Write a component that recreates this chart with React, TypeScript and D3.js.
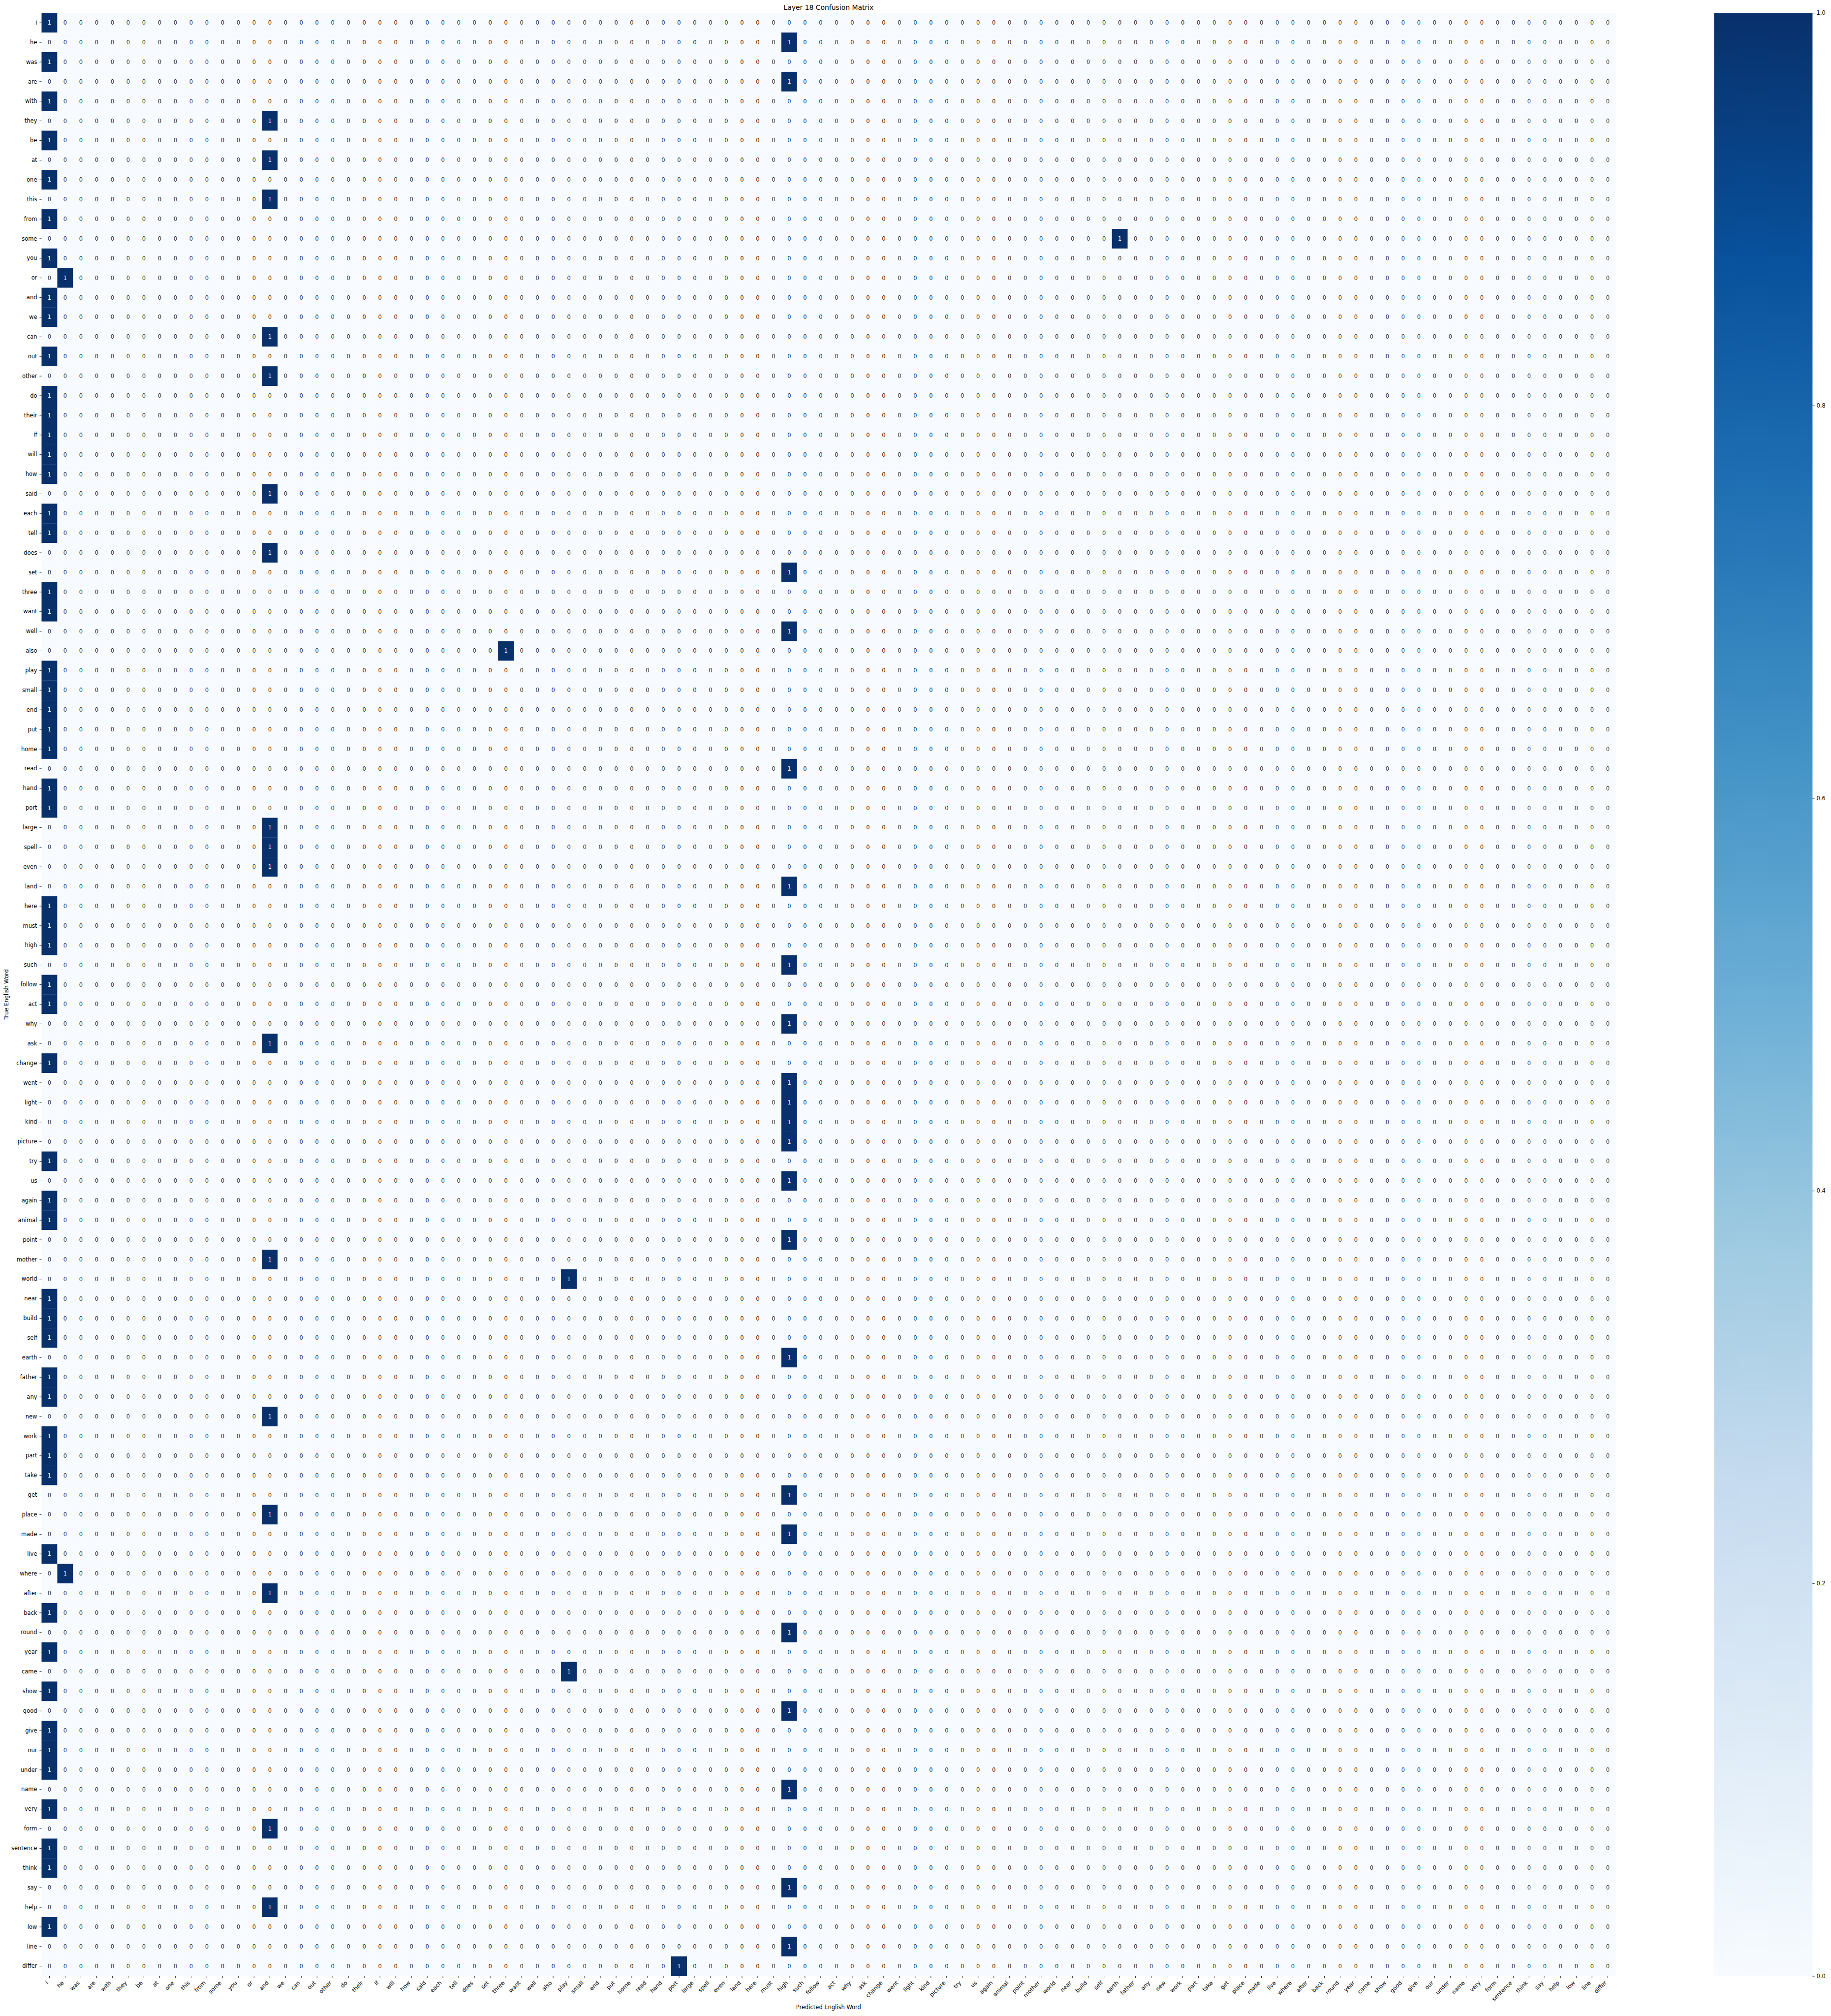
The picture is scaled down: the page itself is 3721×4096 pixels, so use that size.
import React, { useRef, useEffect } from 'react';
import * as d3 from 'd3';

// words shown on both axes (true rows / predicted columns)
const words = [
  'i', 'he', 'was', 'are', 'with', 'they', 'be', 'at', 'one', 'this',
  'from', 'some', 'you', 'or', 'and', 'we', 'can', 'out', 'other', 'do',
  'their', 'if', 'will', 'how', 'said', 'each', 'tell', 'does', 'set', 'three',
  'want', 'well', 'also', 'play', 'small', 'end', 'put', 'home', 'read', 'hand',
  'port', 'large', 'spell', 'even', 'land', 'here', 'must', 'high', 'such', 'follow',
  'act', 'why', 'ask', 'change', 'went', 'light', 'kind', 'picture', 'try', 'us',
  'again', 'animal', 'point', 'mother', 'world', 'near', 'build', 'self', 'earth', 'father',
  'any', 'new', 'work', 'part', 'take', 'get', 'place', 'made', 'live', 'where',
  'after', 'back', 'round', 'year', 'came', 'show', 'good', 'give', 'our', 'under',
  'name', 'very', 'form', 'sentence', 'think', 'say', 'help', 'low', 'line', 'differ',
];

// predicted word for each true word (the single 1 in every row)
const predicted = [
  'i', 'high', 'i', 'high', 'i', 'and', 'i', 'and', 'i', 'and',
  'i', 'earth', 'i', 'he', 'i', 'i', 'and', 'i', 'and', 'i',
  'i', 'i', 'i', 'i', 'and', 'i', 'i', 'and', 'high', 'i',
  'i', 'high', 'three', 'i', 'i', 'i', 'i', 'i', 'high', 'i',
  'i', 'and', 'and', 'and', 'high', 'i', 'i', 'i', 'high', 'i',
  'i', 'high', 'and', 'i', 'high', 'high', 'high', 'high', 'i', 'high',
  'i', 'i', 'high', 'and', 'play', 'i', 'i', 'i', 'high', 'i',
  'i', 'and', 'i', 'i', 'i', 'high', 'and', 'high', 'i', 'he',
  'and', 'i', 'high', 'i', 'play', 'i', 'high', 'i', 'i', 'i',
  'high', 'i', 'and', 'i', 'i', 'high', 'and', 'i', 'high', 'port',
];

const colorbarTicks = [0, 0.2, 0.4, 0.6, 0.8, 1.0];

const title = 'Layer 18 Confusion Matrix';
const xTitle = 'Predicted English Word';
const yTitle = 'True English Word';

const BLUES = ['#f7fbff', '#deebf7', '#c6dbef', '#9ecae1', '#6baed6', '#4292c6', '#2171b5', '#08519c', '#08306b'];

const App = () => {
  const svgRef = useRef<SVGSVGElement>(null);

  useEffect(() => {
    const svg = d3.select(svgRef.current);
    svg.selectAll('*').remove();

    // layout in reference pixels; the viewBox shrinks it to 0.82
    const plot = { left: 103, right: 4004, top: 32, bottom: 4896 };
    const cbar = { left: 4248, right: 4492 };
    const font = 14;

    const x = d3.scaleBand().domain(words).range([plot.left, plot.right]);
    const y = d3.scaleBand().domain(words).range([plot.top, plot.bottom]);

    const color = d3.scaleLinear<string>()
      .domain(BLUES.map((_, i) => i / (BLUES.length - 1)))
      .range(BLUES)
      .interpolate(d3.interpolateRgb);

    const cells = words.flatMap((t, i) =>
      words.map(p => ({ t, p, v: predicted[i] === p ? 1 : 0 }))
    );

    const g = svg.append('g');

    g.selectAll('rect.cell')
      .data(cells)
      .enter().append('rect')
      .attr('class', 'cell')
      .attr('x', d => x(d.p))
      .attr('y', d => y(d.t))
      .attr('width', x.bandwidth() + 0.3)
      .attr('height', y.bandwidth() + 0.3)
      .attr('fill', d => color(d.v));

    g.selectAll('text.annot')
      .data(cells)
      .enter().append('text')
      .attr('class', 'annot')
      .attr('x', d => x(d.p) + x.bandwidth() / 2)
      .attr('y', d => y(d.t) + y.bandwidth() / 2)
      .attr('text-anchor', 'middle')
      .attr('dominant-baseline', 'central')
      .attr('font-size', font)
      .attr('fill', d => (d.v > 0.5 ? '#ffffff' : '#262626'))
      .text(d => d.v);

    // x axis
    const xAxis = svg.append('g')
      .attr('transform', `translate(0,${plot.bottom})`)
      .call(d3.axisBottom(x).tickSize(5).tickSizeOuter(0));
    xAxis.select('.domain').remove();
    xAxis.selectAll('line').attr('stroke', '#000').attr('stroke-width', 1.1);
    xAxis.selectAll('text')
      .attr('x', -2)
      .attr('y', 18)
      .attr('dy', null)
      .attr('text-anchor', 'end')
      .attr('transform', 'rotate(-45,-2,18)')
      .attr('font-size', font)
      .attr('font-family', 'DejaVu Sans')
      .attr('fill', '#000');

    // y axis
    const yAxis = svg.append('g')
      .attr('transform', `translate(${plot.left},0)`)
      .call(d3.axisLeft(y).tickSize(5).tickPadding(6).tickSizeOuter(0));
    yAxis.select('.domain').remove();
    yAxis.selectAll('line').attr('stroke', '#000').attr('stroke-width', 1.1);
    yAxis.selectAll('text')
      .attr('font-size', font)
      .attr('font-family', 'DejaVu Sans')
      .attr('fill', '#000');

    // titles
    const cx = (plot.left + plot.right) / 2;
    svg.append('text')
      .attr('x', cx)
      .attr('y', 25)
      .attr('text-anchor', 'middle')
      .attr('font-size', 17)
      .text(title);

    svg.append('text')
      .attr('x', cx)
      .attr('y', 4978)
      .attr('text-anchor', 'middle')
      .attr('font-size', font)
      .text(xTitle);

    svg.append('text')
      .attr('transform', `translate(20.5,${(plot.top + plot.bottom) / 2}) rotate(-90)`)
      .attr('text-anchor', 'middle')
      .attr('font-size', font)
      .text(yTitle);

    // colorbar
    const grad = svg.append('defs').append('linearGradient')
      .attr('id', 'blues-grad')
      .attr('x1', 0).attr('y1', 1).attr('x2', 0).attr('y2', 0);
    BLUES.forEach((c, i) => {
      grad.append('stop')
        .attr('offset', i / (BLUES.length - 1))
        .attr('stop-color', c);
    });

    svg.append('rect')
      .attr('x', cbar.left)
      .attr('y', plot.top)
      .attr('width', cbar.right - cbar.left)
      .attr('height', plot.bottom - plot.top)
      .attr('fill', 'url(#blues-grad)');

    const yc = d3.scaleLinear().domain([0, 1]).range([plot.bottom, plot.top]);
    const cAxis = svg.append('g')
      .attr('transform', `translate(${cbar.right},0)`)
      .call(d3.axisRight(yc).tickValues(colorbarTicks).tickFormat(d3.format('.1f')).tickSize(5).tickPadding(5));
    cAxis.select('.domain').remove();
    cAxis.selectAll('line').attr('stroke', '#000').attr('stroke-width', 1.1);
    cAxis.selectAll('text')
      .attr('font-size', font)
      .attr('font-family', 'DejaVu Sans')
      .attr('fill', '#000');
  }, []);

  return (
    <svg
      ref={svgRef}
      width={4533 * 0.82}
      height={4990 * 0.82}
      viewBox="0 0 4533 4990"
      fontFamily="DejaVu Sans"
      style={{ position: 'absolute', left: 0, top: 0, background: '#fff' }}
    />
  );
};

export default App;
